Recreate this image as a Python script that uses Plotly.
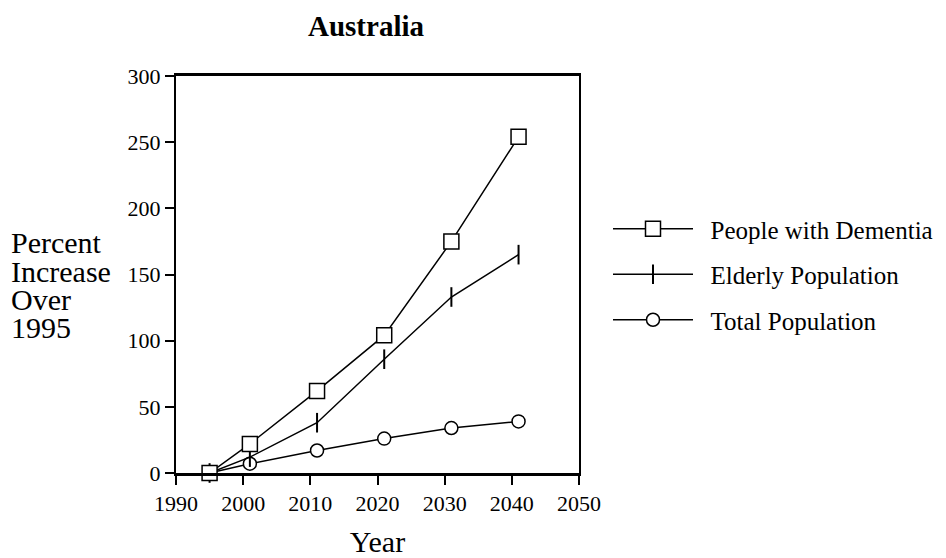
import plotly.graph_objects as go

years = [1995, 2001, 2011, 2021, 2031, 2041]
dementia = [0, 22, 62, 104, 175, 254]
elderly = [0, 12, 38, 86, 133, 165]
total = [0, 7, 17, 26, 34, 39]

series_names = ["People with Dementia", "Elderly Population", "Total Population"]
ylabel_lines = ["Percent", "Increase", "Over", "1995"]
x_ticks = [1990, 2000, 2010, 2020, 2030, 2040, 2050]
y_ticks = [0, 50, 100, 150, 200, 250, 300]

FONT = "Liberation Serif, Times New Roman, serif"
OFF = 8  # default page body margin
W, H = 946 - OFF, 558 - OFF
L, T = 176 - OFF, 76 - OFF
PW, PH = 403, 397
R = W - L - PW
B = H - T - PH
PAD = "\u00a0\u00a0"

fig = go.Figure()
fig.add_trace(go.Scatter(
    x=years, y=total, name=PAD + series_names[2], mode="lines+markers",
    line=dict(color="black", width=1.5),
    marker=dict(symbol="circle", size=13, color="white", line=dict(color="black", width=1.5)),
    cliponaxis=False, legendgroup="c", legendrank=3))
fig.add_trace(go.Scatter(
    x=years, y=elderly, name=PAD + series_names[1], mode="lines+markers",
    line=dict(color="black", width=1.5),
    marker=dict(symbol="line-ns", size=14, color="black", line=dict(color="black", width=2)),
    cliponaxis=False, legendgroup="b", legendrank=2))
fig.add_trace(go.Scatter(
    x=years, y=dementia, name=PAD + series_names[0], mode="lines+markers",
    line=dict(color="black", width=1.5),
    marker=dict(symbol="square", size=15, color="white", line=dict(color="black", width=1.5)),
    cliponaxis=False, legendgroup="a", legendrank=1))

def py(page_y):
    return (T + PH - (page_y - OFF)) / PH

def px(page_x):
    return ((page_x - OFF) - L) / PW

annotations = []
base_y = 243
for i, t in enumerate(ylabel_lines):
    annotations.append(dict(
        text=t, xref="paper", yref="paper", x=px(9), y=py(base_y + i * 28.3),
        xanchor="left", yanchor="middle", showarrow=False,
        font=dict(family=FONT, size=30, color="black")))

fig.update_layout(
    width=W, height=H,
    margin=dict(l=L, r=R, t=T, b=B, autoexpand=False),
    paper_bgcolor="white", plot_bgcolor="white",
    font=dict(family=FONT, color="black"),
    title=dict(text="<b>Australia</b>", x=(366 - OFF) / W, xanchor="center",
               y=1 - (26 - OFF) / H, yanchor="middle",
               font=dict(family=FONT, size=29, color="black")),
    showlegend=True,
    legend=dict(x=px(608), y=py(206), xanchor="left", yanchor="top",
                font=dict(family=FONT, size=25, color="black"),
                itemwidth=80, tracegroupgap=10, bgcolor="rgba(0,0,0,0)",
                traceorder="grouped"),
    annotations=annotations,
)
fig.update_xaxes(
    range=[1990, 2050], tickvals=x_ticks, ticks="outside", ticklen=9, tickwidth=2,
    tickcolor="black", showline=True, linecolor="black", linewidth=2.5, mirror=True,
    showgrid=False, zeroline=False, automargin=False,
    tickfont=dict(family=FONT, size=22, color="black"),
    title=dict(text="Year", font=dict(family=FONT, size=30, color="black"), standoff=31))
fig.update_yaxes(
    range=[0, 300], tickvals=y_ticks, ticks="outside", ticklen=9, tickwidth=2,
    tickcolor="black", showline=True, linecolor="black", linewidth=2, mirror=True,
    showgrid=False, zeroline=False, automargin=False,
    tickfont=dict(family=FONT, size=22, color="black"))

fig.write_html("out.html")
